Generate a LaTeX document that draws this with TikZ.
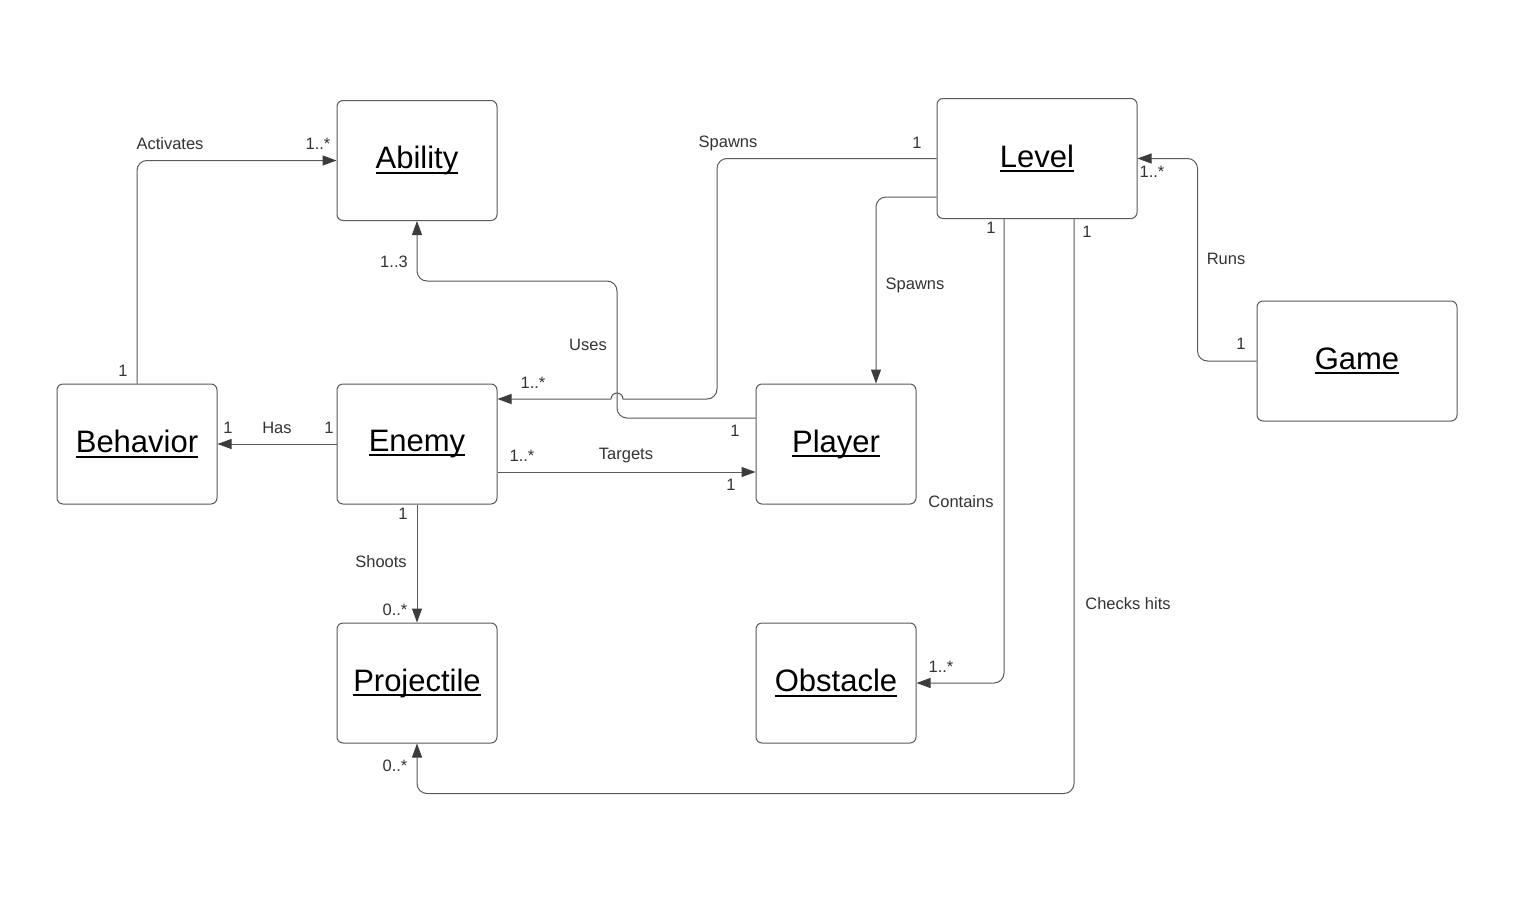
\documentclass[tikz,border=0pt]{standalone}
\usepackage{fontspec}
\setmainfont{Liberation Sans}
\usetikzlibrary{arrows.meta}
\definecolor{linegray}{HTML}{5A5A5A}
\definecolor{arrowgray}{HTML}{3C3C3C}
\definecolor{txtgray}{HTML}{333333}
\newcommand\cname[1]{\setbox0\hbox{#1}\rlap{\usebox0}\rule[-5pt]{\wd0}{2pt}}
\tikzset{
  cls/.style={draw=linegray, line width=1pt, rounded corners=6pt, minimum width=160pt, minimum height=120pt, inner sep=0pt, font=\fontsize{31}{36}\selectfont, text=black},
  widecls/.style={cls, minimum width=200pt},
  conn/.style={draw=linegray, line width=1pt, rounded corners=10pt, -{Triangle[length=14pt,width=10pt,color=arrowgray]}},
  plain/.style={draw=linegray, line width=1pt, rounded corners=10pt},
  lbl/.style={font=\fontsize{16.5}{19}\selectfont, text=txtgray, inner sep=0pt}
}
\begin{document}
\begin{tikzpicture}[x=1pt,y=-1pt]
\useasboundingbox[fill=white] (0,0) rectangle (1520,899);
% classes
\node[cls] (ability) at (417,160.5) {\cname{Ability}};
\node[widecls] (level) at (1037,158.5) {\cname{Level}};
\node[widecls] (game) at (1357,361) {\cname{Game}};
\node[cls] (behavior) at (137,444) {\cname{Behavior}};
\node[cls] (enemy) at (417,444) {\cname{Enemy}};
\node[cls] (player) at (836,444) {\cname{Player}};
\node[cls] (projectile) at (417,683) {\cname{Projectile}};
\node[cls] (obstacle) at (836,683) {\cname{Obstacle}};
% connectors
\draw[conn] (behavior.north) |- (ability.west);
\draw[conn] (enemy.west) -- (behavior.east);
\draw[conn] ([yshift=-28pt]enemy.east) -- ([yshift=-28pt]player.west);
\draw[conn] (enemy.south) -- (projectile.north);
\draw[conn] ([yshift=26pt]player.west) -| (617,281) -| (ability.south);
\coordinate (jumpstart) at (645,399);
\draw[plain] (level.west) -| (717,399) -- (jumpstart);
\draw[conn, rounded corners=0pt] (jumpstart) -- (623,399) arc[start angle=0, end angle=-180, radius=6] -- ([yshift=45pt]enemy.east);
\draw[conn] ([yshift=-38.5pt]level.west) -| ([xshift=40pt]player.north);
\draw[conn] ([xshift=-33pt]level.south) |- (obstacle.east);
\draw[conn] ([xshift=37pt]level.south) |- ([yshift=-50pt]projectile.south) -- (projectile.south);
\draw[conn] (game.west) -| ([xshift=60pt]level.east) -- (level.east);
% labels
\node[lbl] (l1) at (170,144) {Activates};
\node[lbl] (l2) at (318,144) {1..*};
\node[lbl] (l3) at (123,371) {1};
\node[lbl] (l4) at (228,428) {1};
\node[lbl] (l5) at (277,428) {Has};
\node[lbl] (l6) at (329,428) {1};
\node[lbl] (l7) at (522,456) {1..*};
\node[lbl] (l8) at (626,456) {Targets};
\node[lbl] (l9) at (731,485) {1};
\node[lbl] (l10) at (403,514) {1};
\node[lbl] (l11) at (381,562) {Shoots};
\node[lbl] (l12) at (395,610) {0..*};
\node[lbl] (l13) at (588,345) {Uses};
\node[lbl] (l14) at (735,431) {1};
\node[lbl] (l15) at (394,262) {1..3};
\node[lbl] (l16) at (728,143) {Spawns};
\node[lbl] (l17) at (917,143) {1};
\node[lbl] (l18) at (533,383) {1..*};
\node[lbl] (l19) at (915,285) {Spawns};
\node[lbl] (l20) at (991,228) {1};
\node[lbl] (l21) at (961,502) {Contains};
\node[lbl] (l22) at (941,667) {1..*};
\node[lbl] (l23) at (1087,232) {1};
\node[lbl] (l24) at (1128,604) {Checks hits};
\node[lbl] (l25) at (395,766) {0..*};
\node[lbl] (l26) at (1226,259) {Runs};
\node[lbl] (l27) at (1241,344) {1};
\node[lbl] (l28) at (1152,172) {1..*};
\end{tikzpicture}
\end{document}
